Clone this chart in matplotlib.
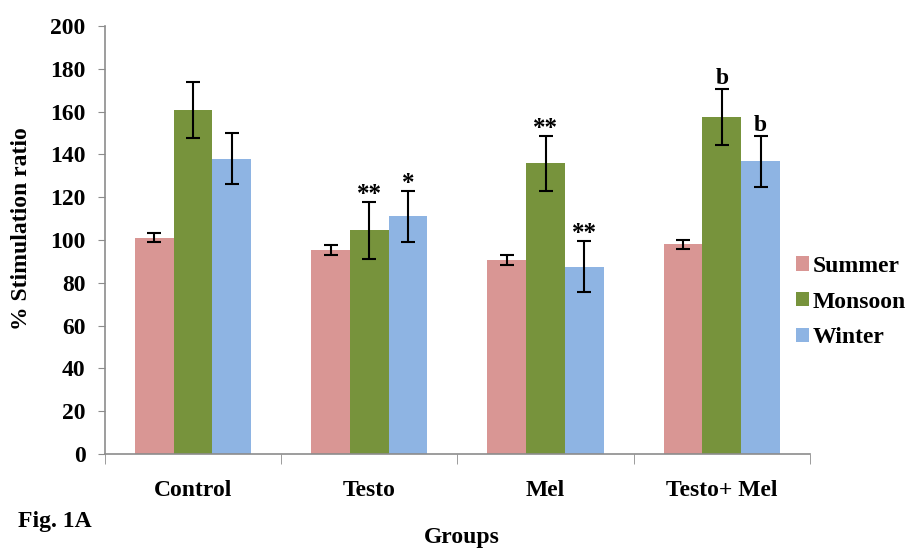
import matplotlib.pyplot as plt
import numpy as np

groups = ["Control", "Testo", "Mel", "Testo+ Mel"]
seasons = ["Summer", "Monsoon", "Winter"]
summer = [101.1, 95.3, 90.7, 98.0]
monsoon = [160.7, 104.5, 135.8, 157.6]
winter = [138.0, 111.1, 87.5, 136.8]
summer_err = [2.2, 2.3, 2.3, 2.1]
monsoon_err = [13.0, 13.2, 13.0, 13.0]
winter_err = [11.8, 12.0, 12.0, 12.0]
summer_sig = ["", "", "", ""]
monsoon_sig = ["", "**", "**", "b"]
winter_sig = ["", "*", "**", "b"]

colors = ["#D99694", "#77933C", "#8EB4E3"]
axis_grey = "#8C8C8C"
fs = 17

plt.rcParams["font.family"] = ["Liberation Serif", "DejaVu Serif"]
plt.rcParams["font.weight"] = "bold"

fig = plt.figure(figsize=(9.08, 5.48), dpi=100)
ax = fig.add_axes([0.1156, 0.1715, 0.7764, 0.7811])

x = np.arange(len(groups))
width = 0.22
series = [(summer, summer_err, summer_sig),
          (monsoon, monsoon_err, monsoon_sig),
          (winter, winter_err, winter_sig)]

for i, (vals, errs, sigs) in enumerate(series):
    pos = x + (i - 1) * width
    ax.bar(pos, vals, width, color=colors[i], label=seasons[i], zorder=2)
    ax.errorbar(pos, vals, yerr=errs, fmt="none", ecolor="black",
                elinewidth=1.5, capsize=5, capthick=1.5, zorder=3)
    for p, v, e, s in zip(pos, vals, errs, sigs):
        if s:
            off = 0 if s == "b" else -3
            ax.annotate(s, (p, v + e), xytext=(0, off), textcoords="offset points",
                        ha="center", va="bottom", fontsize=18 if s != "b" else 17,
                        fontweight="bold")

ax.set_xlim(-0.5, len(groups) - 0.5)
ax.set_ylim(0, 200)
ax.set_yticks(np.arange(0, 201, 20))
ax.set_xticks(x)
ax.set_xticklabels(groups)
ax.set_xticks(np.arange(-0.5, len(groups), 1.0), minor=True)

for side in ["top", "right"]:
    ax.spines[side].set_visible(False)
for side in ["left", "bottom"]:
    ax.spines[side].set_color(axis_grey)
    ax.spines[side].set_linewidth(1.2)

ax.tick_params(axis="y", direction="out", length=5, color=axis_grey,
               labelsize=fs, pad=9)
ax.tick_params(axis="x", which="major", length=0, labelsize=fs, pad=19)
ax.tick_params(axis="x", which="minor", direction="out", length=7,
               color=axis_grey)
for lbl in ax.get_xticklabels() + ax.get_yticklabels():
    lbl.set_fontweight("bold")

fig.text(22 / 908, 1 - 229 / 548, "% Stimulation ratio", rotation=90,
         ha="center", va="center", fontsize=fs, fontweight="bold")
fig.text(0.509, 1 - 537 / 548, "Groups", ha="center", va="center",
         fontsize=fs, fontweight="bold")
fig.text(18 / 908, 1 - 522 / 548, "Fig. 1A", ha="left", va="center",
         fontsize=fs, fontweight="bold")

leg = ax.legend(loc="center left", bbox_to_anchor=(0.98, 0.355), frameon=False,
                fontsize=fs, handlelength=0.55, handleheight=0.55,
                handletextpad=0.15, labelspacing=0.62, borderpad=0,
                borderaxespad=0)
for t in leg.get_texts():
    t.set_fontweight("bold")

fig.savefig("out.png", dpi=100)
